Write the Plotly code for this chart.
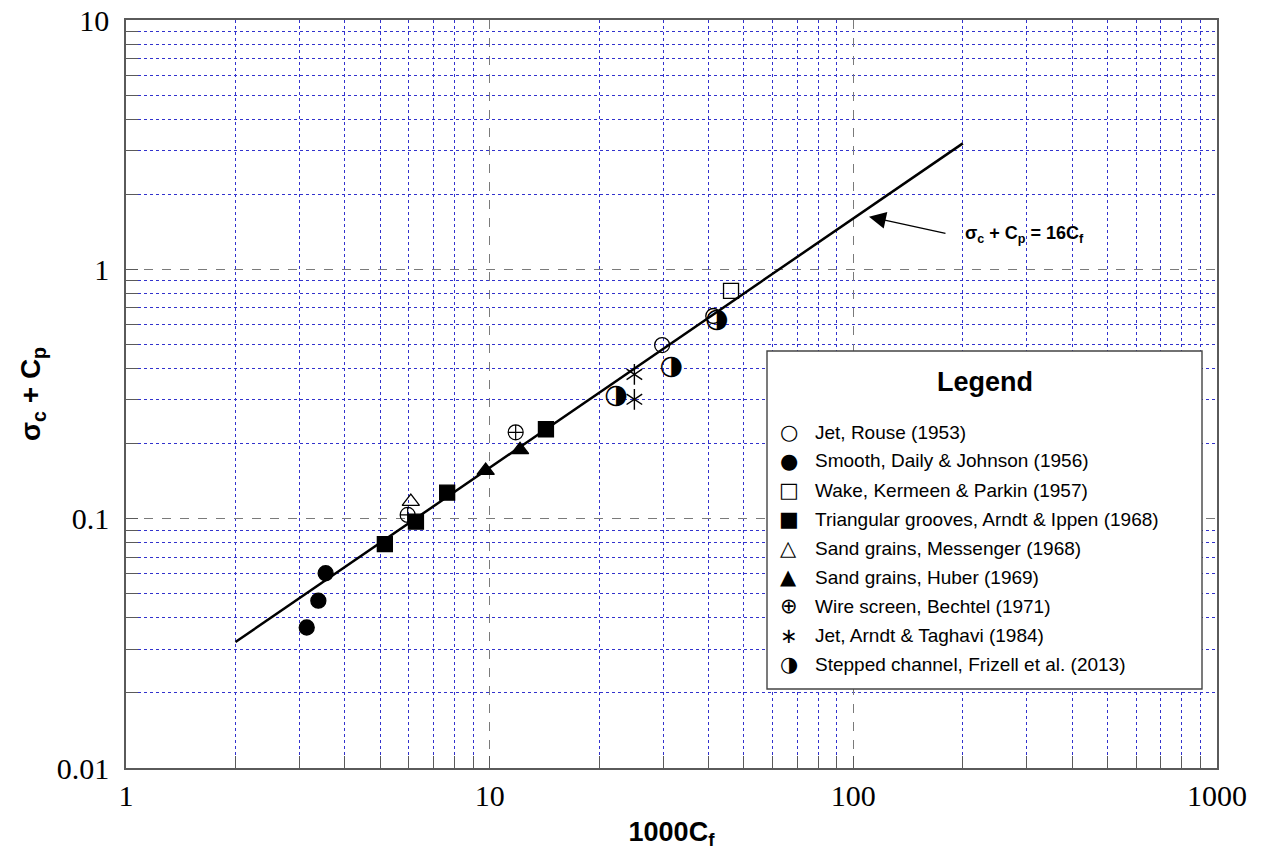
import plotly.graph_objects as go

# ---------------- data ----------------
line_x = [2, 200]
line_y = [0.032, 3.2]

rouse_x = [29.8, 41.2]
rouse_y = [0.497, 0.65]
daily_x = [3.14, 3.38, 3.54]
daily_y = [0.0366, 0.0469, 0.0604]
kermeen_x = [46.1]
kermeen_y = [0.819]
arndt_ippen_x = [5.15, 6.27, 7.64, 14.28]
arndt_ippen_y = [0.0791, 0.0973, 0.1272, 0.2284]
messenger_x = [6.07]
messenger_y = [0.117]
huber_x = [9.75, 12.12]
huber_y = [0.1558, 0.1887]
bechtel_x = [5.95, 11.79]
bechtel_y = [0.1035, 0.222]
taghavi_x = [25.0, 25.0]
taghavi_y = [0.379, 0.301]
frizell_x = [22.25, 31.6, 42.1]
frizell_y = [0.309, 0.405, 0.627]

legend_labels = [
    "Jet, Rouse (1953)",
    "Smooth, Daily & Johnson (1956)",
    "Wake, Kermeen & Parkin (1957)",
    "Triangular grooves, Arndt & Ippen (1968)",
    "Sand grains, Messenger (1968)",
    "Sand grains, Huber (1969)",
    "Wire screen, Bechtel (1971)",
    "Jet, Arndt & Taghavi (1984)",
    "Stepped channel, Frizell et al. (2013)",
]
legend_glyphs = ["○", "●", "□", "■", "△", "▲", "⊕", "∗", "◑"]

# ---------------- figure ----------------
fig = go.Figure()

fig.add_trace(go.Scatter(x=line_x, y=line_y, mode="lines",
                         line=dict(color="black", width=2.5), showlegend=False))

def mk(x, y, symbol, size=14, lw=1.3):
    fig.add_trace(go.Scatter(
        x=x, y=y, mode="markers", showlegend=False,
        marker=dict(symbol=symbol, size=size, color="black",
                    line=dict(color="black", width=lw))))

mk(rouse_x, rouse_y, "circle-open", 15, 1.3)
mk(daily_x, daily_y, "circle", 15)
mk(kermeen_x, kermeen_y, "square-open", 15, 1.3)
mk(arndt_ippen_x, arndt_ippen_y, "square", 15)
mk(messenger_x, messenger_y, "triangle-up-open", 15, 1.3)
mk(huber_x, huber_y, "triangle-up", 15)
mk(bechtel_x, bechtel_y, "circle-cross-open", 15, 1.2)
mk(taghavi_x, taghavi_y, "y-up-open", 13, 1.4)
mk(taghavi_x, taghavi_y, "y-down-open", 13, 1.4)

fig.add_trace(go.Scatter(
    x=frizell_x, y=frizell_y, mode="text", text=["◑"] * len(frizell_x),
    textposition="middle center", showlegend=False,
    textfont=dict(family="DejaVu Sans", size=27, color="black")))

grid_minor = "rgb(50,50,205)"
axis_common = dict(
    type="log", dtick=1, exponentformat="none", automargin=False,
    ticklabeloverflow="allow",
    showline=True, linecolor="#5a5a5a", linewidth=1.6, mirror=True,
    ticks="inside", ticklen=12, tickwidth=1.4, tickcolor="#5a5a5a",
    showgrid=True, gridcolor="#7a7a7a", griddash="dash", gridwidth=1.4,
    zeroline=False,
    tickfont=dict(family="Liberation Serif", size=30, color="black"),
    minor=dict(dtick="D1", ticks="inside", ticklen=12, tickwidth=1.2,
               tickcolor="#5a5a5a", showgrid=True, gridcolor=grid_minor,
               griddash="dot", gridwidth=1.2),
)

fig.update_xaxes(**axis_common, range=[0, 3], ticklabelstandoff=0,
                 title=dict(text="1000C<sub>f</sub>", standoff=11,
                            font=dict(family="Liberation Sans", size=27,
                                      weight="bold", color="black")))
fig.update_yaxes(**axis_common, range=[-2, 1], ticklabelstandoff=9,
                 title=dict(text="σ<sub>c</sub> + C<sub>p</sub>", standoff=8,
                            font=dict(family="Liberation Sans", size=28,
                                      weight="bold", color="black")))

# equation annotation with arrow
fig.add_annotation(xref="paper", yref="paper", x=0.681, y=0.737,
                   ax=78, ay=17, showarrow=True, arrowhead=2,
                   arrowsize=2.6, arrowwidth=1.3, arrowcolor="black", text="")
fig.add_annotation(xref="paper", yref="paper", x=0.7672, y=0.7126,
                   xanchor="left", yanchor="middle", showarrow=False,
                   text="σ<sub>c</sub> + C<sub>p</sub> = 16C<sub>f</sub>",
                   font=dict(family="Liberation Sans", size=18, weight="bold",
                             color="black"))

# manual legend box (positions in plot-area fractions)
def px_to_paper_x(px):
    return (px - 126) / 1091

def px_to_paper_y(py):
    return (768 - py) / 748

fig.add_shape(type="rect", xref="paper", yref="paper",
              x0=px_to_paper_x(767), x1=px_to_paper_x(1202),
              y0=px_to_paper_y(689), y1=px_to_paper_y(351),
              fillcolor="white", line=dict(color="#444", width=1.4),
              layer="above")
fig.add_annotation(xref="paper", yref="paper", x=px_to_paper_x(985),
                   y=px_to_paper_y(382), showarrow=False, text="Legend",
                   xanchor="center", yanchor="middle",
                   font=dict(family="Liberation Sans", size=27, weight="bold",
                             color="black"))
row_y = [432.3, 460.7, 490, 519.3, 548.3, 577.3, 606, 635.7, 664.3]
for lab, gl, ry in zip(legend_labels, legend_glyphs, row_y):
    fig.add_annotation(xref="paper", yref="paper", x=px_to_paper_x(788.5),
                       y=px_to_paper_y(ry), showarrow=False, text=gl,
                       xanchor="center", yanchor="middle",
                       font=dict(family="DejaVu Sans", size=21, color="black"))
    fig.add_annotation(xref="paper", yref="paper", x=px_to_paper_x(813),
                       y=px_to_paper_y(ry), showarrow=False, text=lab,
                       xanchor="left", yanchor="middle",
                       font=dict(family="Liberation Sans", size=19,
                                 color="black"))

# page body has an 8px default margin: size the figure so that it fills 1261x856
fig.update_layout(
    width=1253, height=848,
    margin=dict(l=118, r=44, t=12, b=88),
    paper_bgcolor="white", plot_bgcolor="white",
    showlegend=False,
)

fig.write_html("out.html")
